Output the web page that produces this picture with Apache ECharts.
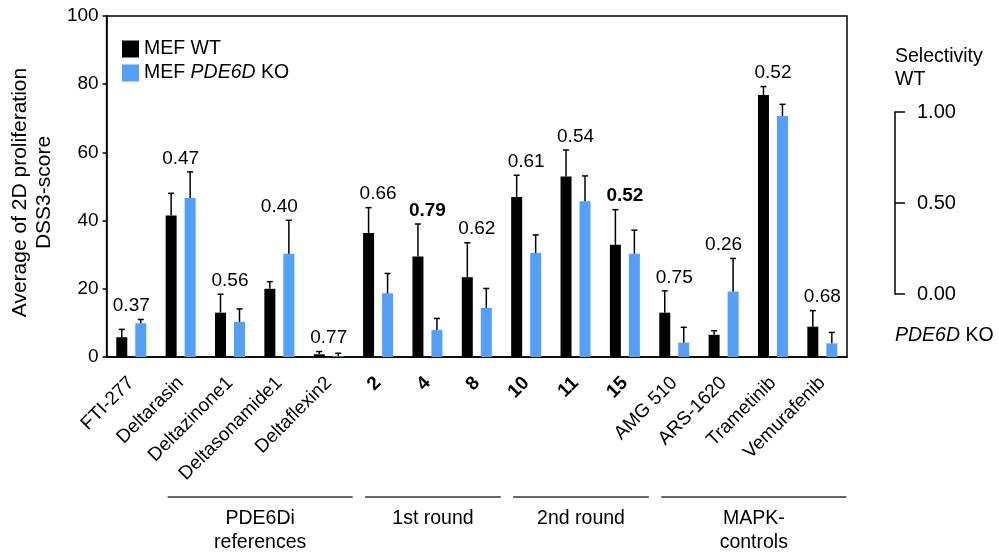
<!DOCTYPE html>
<html>
<head>
<meta charset="utf-8">
<script src="https://cdn.jsdelivr.net/npm/echarts@6/dist/echarts.min.js"></script>
<style>
html,body{margin:0;padding:0;background:#fff;}
#main{width:999px;height:555px;}
</style>
</head>
<body>
<div id="main"></div>
<script>
// ---- data ----
const categories = ['FTI-277','Deltarasin','Deltazinone1','Deltasonamide1','Deltaflexin2','2','4','8','10','11','15','AMG 510','ARS-1620','Trametinib','Vemurafenib'];
const boldCategories = ['2','4','8','10','11','15'];
const wtMean = [5.8, 41.5, 13.0, 20.0, 0.8, 36.4, 29.5, 23.4, 46.9, 52.9, 32.9, 13.0, 6.5, 76.8, 8.9];
const wtSD   = [2.3, 6.5, 5.4, 2.1, 0.8, 7.4, 9.5, 10.1, 6.4, 7.8, 10.3, 6.4, 1.2, 2.5, 4.7];
const koMean = [9.9, 46.6, 10.3, 30.3, 0.2, 18.7, 7.9, 14.4, 30.5, 45.7, 30.3, 4.2, 19.2, 70.7, 4.0];
const koSD   = [1.1, 7.7, 3.8, 9.8, 0.9, 5.8, 3.4, 5.7, 5.3, 7.4, 6.9, 4.5, 9.7, 3.4, 3.2];
const selectivity = ['0.37','0.47','0.56','0.40','0.77','0.66','0.79','0.62','0.61','0.54','0.52','0.75','0.26','0.52','0.68'];
const boldSelectivity = [false,false,false,false,false,false,true,false,false,false,true,false,false,false,false];
const groups = [
  {name:'PDE6Di\nreferences', from:1, to:4},
  {name:'1st round', from:5, to:7},
  {name:'2nd round', from:8, to:10},
  {name:'MAPK-\ncontrols', from:11, to:14}
];
const yTicks = [0, 20, 40, 60, 80, 100];
const selTicks = [0, 0.5, 1];
const seriesNames = ['MEF WT', 'MEF PDE6D KO'];

// ---- style ----
const FONT = 'Liberation Sans, Arial, Helvetica, sans-serif';
const BLACK = '#000000';
const BLUE = '#549ff7';
const BAR_W = 11;
const BAR_GAP = 8;
const OFFSET = (BAR_W + BAR_GAP) / 2;

const chart = echarts.init(document.getElementById('main'), null, {renderer:'canvas'});

function errData(mean, sd){ return mean.map((m,i)=>[i, m, m+sd[i]]); }
function errRender(dir){
  return function(params, api){
    const i = api.value(0);
    const base = api.coord([i, api.value(1)]);
    const top = api.coord([i, api.value(2)]);
    const x = base[0] + dir*OFFSET;
    return {type:'group', children:[
      {type:'line', shape:{x1:x, y1:base[1], x2:x, y2:top[1]}, style:{stroke:'#000', lineWidth:1.5}},
      {type:'line', shape:{x1:x-3, y1:top[1], x2:x+3, y2:top[1]}, style:{stroke:'#000', lineWidth:1.5}}
    ]};
  };
}
const labelTop = wtMean.map((m,i)=>Math.max(m+wtSD[i], koMean[i]+koSD[i]));

const option = {
  animation:false,
  textStyle:{fontFamily:FONT},
  grid:[
    {left:101, right:152, top:16, bottom:198, show:true, borderColor:'#000', borderWidth:1.5, backgroundColor:'transparent'},
    {left:895, width:1, top:112, height:182}
  ],
  legend:{
    data:seriesNames, orient:'vertical', left:117, top:34, itemWidth:17, itemHeight:17, itemGap:4,
    icon:'rect', selectedMode:false,
    textStyle:{fontSize:19.5, color:'#000', fontFamily:FONT, rich:{i:{fontStyle:'italic', fontSize:19.5, fontFamily:FONT}}},
    formatter:function(n){ return n==='MEF PDE6D KO' ? 'MEF {i|PDE6D} KO' : n; }
  },
  xAxis:[
    {type:'category', gridIndex:0, data:categories, boundaryGap:true,
      axisLine:{lineStyle:{color:'#000', width:1.5}},
      axisTick:{alignWithLabel:true, length:5, lineStyle:{color:'#000', width:1.5}},
      axisLabel:{rotate:45, margin:23, fontSize:19, color:'#000', fontFamily:FONT, interval:0,
        formatter:function(v){ return boldCategories.indexOf(v)>=0 ? '{b|'+v+'}' : v; },
        rich:{b:{fontWeight:'bold', fontSize:19, fontFamily:FONT}}}
    },
    {type:'value', gridIndex:1, show:false, min:0, max:1}
  ],
  yAxis:[
    {type:'value', gridIndex:0, min:0, max:100, interval:20,
      name:'Average of 2D proliferation\nDSS3-score', nameLocation:'middle', nameGap:38, nameRotate:90,
      nameTextStyle:{fontSize:21, color:'#000', lineHeight:24, fontFamily:FONT, padding:[0,12,0,0]},
      axisLine:{show:true, lineStyle:{color:'#000', width:1.5}},
      axisTick:{show:true, length:4, lineStyle:{color:'#000', width:1.5}},
      axisLabel:{fontSize:19, color:'#000', margin:8, fontFamily:FONT},
      splitLine:{show:false}
    },
    {type:'value', gridIndex:1, min:0, max:1, interval:0.5, position:'left',
      name:'Selectivity\nWT', nameLocation:'end', nameGap:21,
      nameTextStyle:{fontSize:19.5, color:'#000', align:'left', lineHeight:23, fontFamily:FONT},
      axisLine:{show:true, lineStyle:{color:'#000', width:1.5}},
      axisTick:{show:true, inside:true, length:10, lineStyle:{color:'#000', width:1.5}},
      axisLabel:{inside:true, margin:22, fontSize:20, color:'#000', fontFamily:FONT,
        formatter:function(v){ return v.toFixed(2); }},
      splitLine:{show:false}
    }
  ],
  series:[
    {name:seriesNames[0], type:'bar', xAxisIndex:0, yAxisIndex:0, data:wtMean, barWidth:BAR_W, barGap:(BAR_GAP/BAR_W*100)+'%', itemStyle:{color:BLACK}},
    {name:seriesNames[1], type:'bar', xAxisIndex:0, yAxisIndex:0, data:koMean, barWidth:BAR_W, itemStyle:{color:BLUE}},
    {type:'custom', xAxisIndex:0, yAxisIndex:0, data:errData(wtMean, wtSD), renderItem:errRender(-1), z:5, silent:true},
    {type:'custom', xAxisIndex:0, yAxisIndex:0, data:errData(koMean, koSD), renderItem:errRender(1), z:5, silent:true},
    {type:'scatter', xAxisIndex:0, yAxisIndex:0, symbolSize:0, data:labelTop.map((v,i)=>[i,v]), silent:true,
      itemStyle:{opacity:1},
      label:{show:true, position:'top', distance:4, fontSize:19, color:'#000', opacity:1, fontFamily:FONT,
        formatter:function(p){ const i=p.dataIndex; return boldSelectivity[i] ? '{b|'+selectivity[i]+'}' : selectivity[i]; },
        rich:{b:{fontWeight:'bold', fontSize:19, color:'#000', fontFamily:FONT}}}
    }
  ]
};
chart.setOption(option);

// group brackets under the axis, positioned from the category scale
function drawGroups(){
  const lineY = 497;
  const els = [];
  groups.forEach(g=>{
    const x0 = chart.convertToPixel({xAxisIndex:0}, g.from) - 13;
    const x1 = chart.convertToPixel({xAxisIndex:0}, g.to) + 24;
    els.push({type:'line', shape:{x1:x0, y1:lineY, x2:x1, y2:lineY}, style:{stroke:'#333', lineWidth:1.3}});
    els.push({type:'text', x:(x0+x1)/2, y:lineY+10, style:{text:g.name, fontSize:19.5, fontFamily:FONT, fill:'#000', align:'center', verticalAlign:'top', lineHeight:24}});
  });
  els.push({type:'text', x:895, y:326, style:{text:'{i|PDE6D} KO', fontSize:19.5, fontFamily:FONT, fill:'#000', align:'left', verticalAlign:'top',
    rich:{i:{fontStyle:'italic', fontSize:19.5, fontFamily:FONT}}}});
  chart.setOption({graphic:{elements:els}});
}
drawGroups();
</script>
</body>
</html>
